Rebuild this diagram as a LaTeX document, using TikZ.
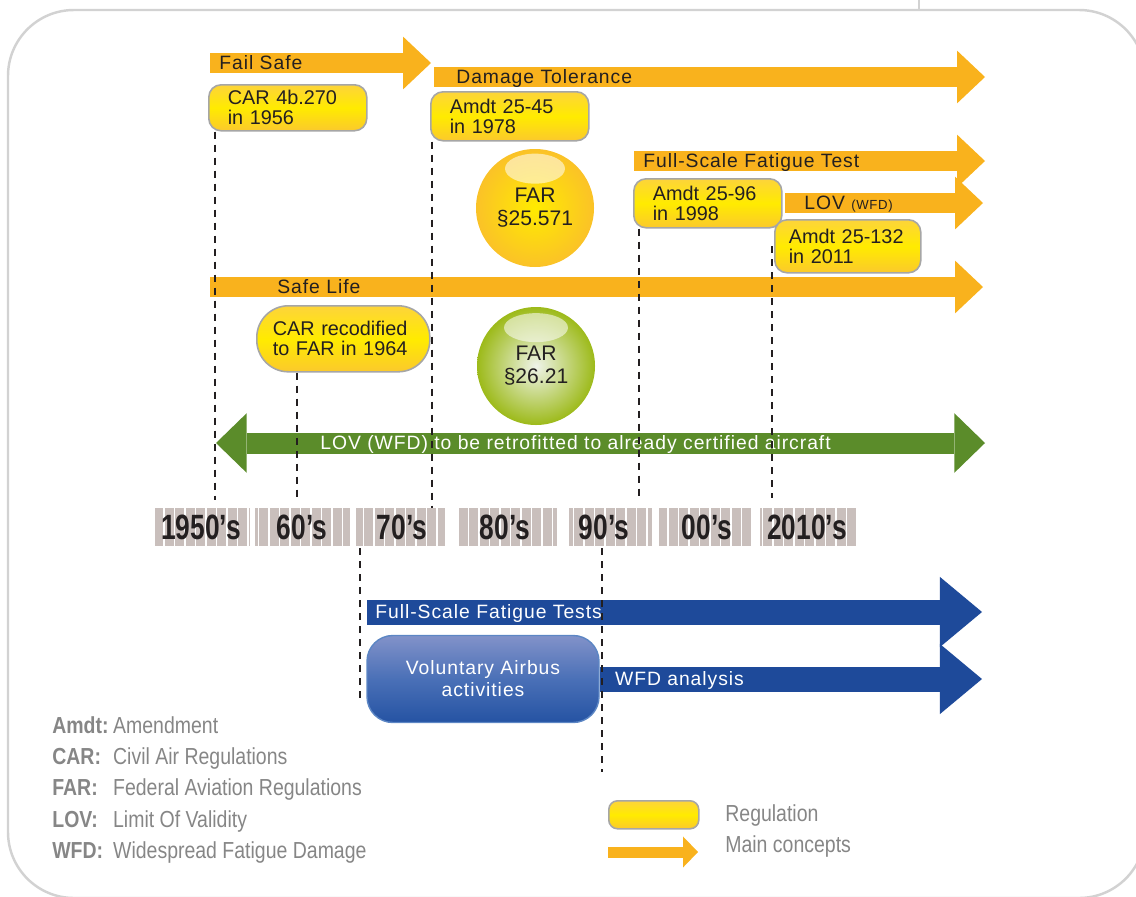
\documentclass[tikz,border=0pt]{standalone}
\usepackage{fontspec}
\setmainfont{Liberation Sans}
\newfontfamily\spacedfont[LetterSpace=5]{Liberation Sans}
\newfontfamily\narrowfont[FakeStretch=0.84]{Liberation Sans}
\newfontfamily\decadefont[FakeStretch=0.75]{Liberation Sans}
\usetikzlibrary{arrows.meta,positioning}

\definecolor{framegray}{HTML}{D2D2D2}
\definecolor{conceptorange}{HTML}{F9B21D}
\definecolor{regtop}{HTML}{FDD43A}
\definecolor{regmid}{HTML}{FFEB00}
\definecolor{regbottom}{HTML}{FBC92C}
\definecolor{regedge}{HTML}{A6A6A6}
\definecolor{retrogreen}{HTML}{5B8C2A}
\definecolor{airbusblue}{HTML}{1E4A9A}
\definecolor{bluetop}{HTML}{8292C9}
\definecolor{bluemid}{HTML}{4A70B7}
\definecolor{bluebottom}{HTML}{2553A3}
\definecolor{blueedge}{HTML}{5C86C4}
\definecolor{bargray}{HTML}{C9BFBC}
\definecolor{legendgray}{HTML}{868686}
\definecolor{labeldark}{HTML}{231F20}

\newdimen\pxu \pxu=0.02cm
\newcommand{\legkey}[1]{\makebox[34.6pt][l]{\bfseries #1}}

\begin{document}
\begin{tikzpicture}[x=0.02cm,y=-0.02cm,
  frame/.style={draw=framegray,line width=1.4pt,rounded corners=1.32cm},
  concept/.style={draw=conceptorange,line width=20\pxu,
    -{Triangle[length=15.9pt,width=30pt,line width=0pt]}},
  conceptlabel/.style={font=\spacedfont\fontsize{11}{13}\selectfont,text=labeldark,
    inner sep=0pt,text height=7.9pt,text depth=0pt},
  retrofit/.style={draw=retrogreen,line width=21\pxu,
    {Triangle[length=17.5pt,width=34pt,line width=0pt]}-{Triangle[length=17.5pt,width=34pt,line width=0pt]}},
  airbus/.style={draw=airbusblue,line width=25\pxu,
    -{Triangle[length=24pt,width=40pt,line width=0pt]}},
  whitelabel/.style={conceptlabel,text=white},
  regulation/.style={draw=regedge,line width=0.9pt,rounded corners=7pt,
    top color=regtop,bottom color=regbottom,middle color=regmid,
    inner xsep=19\pxu,inner ysep=0pt,align=left,anchor=north west,
    font=\fontsize{11.3}{11.5}\selectfont,text=labeldark},
  sphere/.style={circle,minimum size=118\pxu,inner sep=0pt,align=center,
    font=\fontsize{12}{13}\selectfont,text=labeldark},
  gloss/.style={fill=white,fill opacity=0.55},
  voluntary/.style={draw=blueedge,line width=0.8pt,rounded corners=14.7pt,
    top color=bluetop,bottom color=bluebottom,middle color=bluemid,
    minimum width=232\pxu,minimum height=87\pxu,align=center,text=white,
    font=\spacedfont\fontsize{11}{12.5}\selectfont},
  decade/.style={font=\decadefont\bfseries\fontsize{20}{20}\selectfont,text=labeldark,inner sep=0pt},
  guide/.style={draw=labeldark,line width=1.1pt,dash pattern=on 4pt off 3.4pt},
  legend/.style={font=\narrowfont\fontsize{13.2}{14}\selectfont,text=legendgray,
    inner sep=0pt,text height=10pt,text depth=2.5pt},
  keyarrow/.style={draw=conceptorange,line width=11\pxu,
    -{Triangle[length=8.5pt,width=17.6pt,line width=0pt]}}
  ]
  \useasboundingbox (0,0) rectangle (1136,896);

  % outer frame
  \draw[frame] (8,10) rectangle (1145,898);
  \draw[framegray,line width=1.2pt] (919,0) -- (919,10);

  % main concepts
  \draw[concept] (210,63) coordinate (failsafe) -- (431,63);
  \draw[concept] (434,77) coordinate (damage) -- (985,77);
  \draw[concept] (634,161) coordinate (fullscale) -- (985,161);
  \draw[concept] (785,203) coordinate (lov) -- (983,203);
  \draw[concept] (210,287) coordinate (safelife) -- (983,287);
  \path
  node[conceptlabel,right=9\pxu of failsafe] (failsafe-l) {Fail Safe}
  node[conceptlabel,right=22\pxu of damage] (damage-l) {Damage Tolerance}
  node[conceptlabel,right=9\pxu of fullscale] (fullscale-l) {Full-Scale Fatigue Test}
  node[conceptlabel,right=19\pxu of lov] (lov-l) {LOV {\fontsize{7.5}{8}\selectfont(WFD)}}
  node[conceptlabel,right=67\pxu of safelife] (safelife-l) {Safe Life}
  ;

  % regulations
  \node[regulation,text width=120\pxu,minimum height=46\pxu] (car56) at (208,84) {CAR 4b.270\\in 1956};
  \node[regulation,text width=120\pxu,minimum height=49\pxu] (amdt78) at (430,91) {Amdt 25-45\\in 1978};
  \node[regulation,text width=110\pxu,minimum height=49\pxu] (amdt98) at (633,178) {Amdt 25-96\\in 1998};
  \node[regulation,inner xsep=14\pxu,text width=118\pxu,minimum height=53\pxu] (amdt11) at (774,219) {Amdt 25-132\\in 2011};
  \node[regulation,rounded corners=18pt,inner xsep=16\pxu,text width=141\pxu,minimum height=66\pxu] (car64) at (256,305) {CAR recodified\\to FAR in 1964};

  % FAR spheres
  \node[sphere,shading=radial,inner color=regmid,outer color=regbottom!70!conceptorange] (far25) at (535,208) {FAR\\§25.571};
  \fill[gloss] ([yshift=-20\pxu]far25.north) ellipse [x radius=0.6cm,y radius=0.3cm];
  \node[sphere,shading=radial,inner color=white!90!retrogreen,outer color=retrogreen!60!yellow] (far26) at (536,366) {FAR\\§26.21};
  \fill[gloss] ([yshift=-21\pxu]far26.north) ellipse [x radius=0.64cm,y radius=0.29cm];

  % retrofit
  \draw[retrofit] (216,443) coordinate (retro) -- (985,443);
  \node[whitelabel,right=104\pxu of retro] (retro-l) {LOV (WFD) to be retrofitted to already certified aircraft};

  % time line
  \foreach \a/\b in {155/250,255/350,356/445,457/557,569/652,659/753,760/858}
    \fill[bargray] (\a,508) rectangle (\b,546);
  \foreach \s in {164,174.5,...,858}
    \draw[white,line width=0.9pt] (\s,508) -- (\s,546);
  \path
  node[decade] (d1950) at (201,527) {1950’s}
  node[decade] (d1960) at (302,527) {60’s}
  node[decade] (d1970) at (402,527) {70’s}
  node[decade] (d1980) at (505,527) {80’s}
  node[decade] (d1990) at (604,527) {90’s}
  node[decade] (d2000) at (707,527) {00’s}
  node[decade] (d2010) at (807,527) {2010’s}
  ;

  % airbus activities
  \node[voluntary] (vab) at (483,679) {Voluntary Airbus\\activities};
  \draw[airbus] (367,612) coordinate (fst) -- (982,612);
  \draw[airbus] (vab.east) coordinate (wfd) -- (982,679);
  \node[whitelabel,right=8\pxu of fst] (fst-l) {Full-Scale Fatigue Tests};
  \node[whitelabel,right=15\pxu of wfd] (wfd-l) {WFD analysis};

  % dates down to the time line
  \coordinate (t1956) at (215,500);
  \coordinate (t1964) at (297,497);
  \coordinate (t1978) at (432,508);
  \coordinate (t1998) at (639,500);
  \coordinate (t2011) at (772,498);
  \draw[guide] (car56.south -| t1956) -- (t1956);
  \draw[guide] (car64.south -| t1964) -- (t1964);
  \draw[guide] (amdt78.south -| t1978) -- (t1978);
  \draw[guide] (amdt98.south -| t1998) -- (t1998);
  \draw[guide] (amdt11.west -| t2011) -- (t2011);
  \coordinate (b1970) at (360,548);
  \coordinate (b1990) at (602,548);
  \draw[guide] (b1970) -- ++(0,156);
  \draw[guide] (b1990) -- ++(0,224);

  % legend
  \node[legend,anchor=base west] (leg-amdt) at (52,733) {\legkey{Amdt:}Amendment};
  \node[legend,below=8.7\pxu of leg-amdt.south west,anchor=north west] (leg-car) {\legkey{CAR:}Civil Air Regulations};
  \node[legend,below=8.7\pxu of leg-car.south west,anchor=north west] (leg-far) {\legkey{FAR:}Federal Aviation Regulations};
  \node[legend,below=8.7\pxu of leg-far.south west,anchor=north west] (leg-lov) {\legkey{LOV:}Limit Of Validity};
  \node[legend,below=8.7\pxu of leg-lov.south west,anchor=north west] (leg-wfd) {\legkey{WFD:}Widespread Fatigue Damage};

  \node[regulation,rounded corners=5pt,inner xsep=0pt,minimum width=90\pxu,minimum height=28\pxu] (key-reg) at (608,800) {};
  \draw[keyarrow] (608,852) coordinate (key-con) -- (698,852);
  \node[legend,anchor=base west] (key-reg-l) at (725,821) {Regulation};
  \node[legend,below=8.7\pxu of key-reg-l.south west,anchor=north west] (key-con-l) {Main concepts};
\end{tikzpicture}
\end{document}
